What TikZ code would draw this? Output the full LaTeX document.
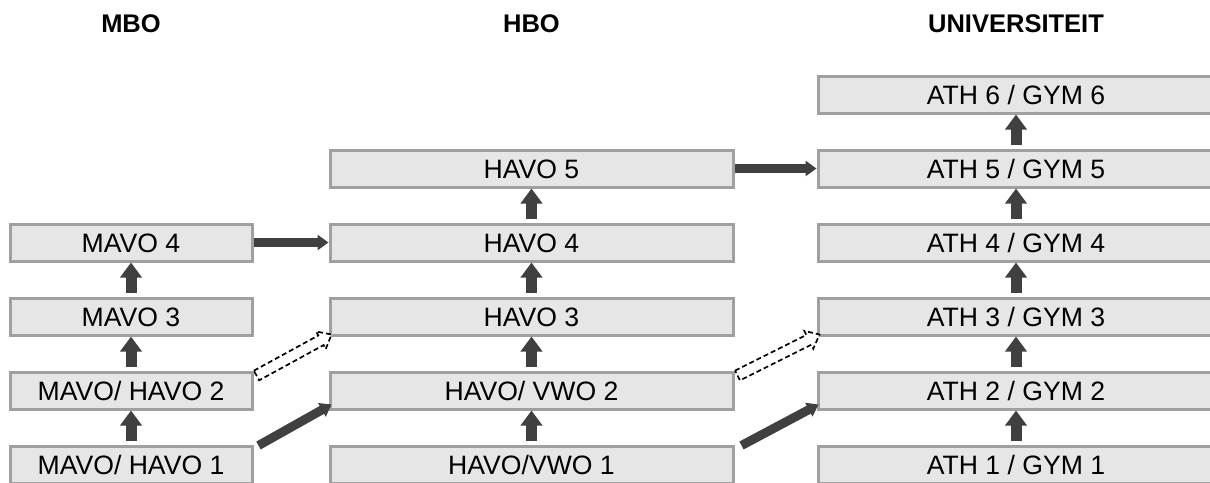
\documentclass[tikz,border=0pt]{standalone}
\usepackage{fontspec}
\setmainfont{Liberation Sans}
\usetikzlibrary{arrows.meta,positioning,calc}
\definecolor{boxgray}{RGB}{160,160,160}
\definecolor{boxfill}{RGB}{230,230,230}
\definecolor{arrowgray}{RGB}{64,64,64}

\begin{document}
\begin{tikzpicture}[x=1pt,y=-1pt,node distance=34pt,
  level/.style={draw=boxgray,fill=boxfill,line width=3pt,minimum height=37pt,inner sep=0pt,text height=19pt,text depth=0pt,font=\fontsize{26.6}{30}\selectfont},
  mbo/.style={level,minimum width=242pt},
  hbo/.style={level,minimum width=403pt},
  uni/.style={level,minimum width=396pt},
  head/.style={inner sep=0pt,text height=18.3pt,text depth=0pt,font=\fontsize{25.5}{30}\selectfont\bfseries},
  stepup/.style={arrowgray,line width=11pt,shorten <=4pt,-{Triangle[length=15pt,width=21pt]}},
  jump/.style={arrowgray,line width=9pt,-{Triangle[length=11pt,width=15pt]}},
  hollow/.style={draw=black,fill=white,line width=1.7pt,dash pattern=on 5pt off 3pt,line join=miter}]
\useasboundingbox (0,0) rectangle (1210,482);

% column headers
\node[head] (mbohead) at (131,23.5) {MBO};
\node[head] (hbohead) at (531.5,23.5) {HBO};
\node[head] (unihead) at (1016,23.5) {UNIVERSITEIT};

% MBO
\node[mbo] (mh1) at (131,464.5) {MAVO/ HAVO 1};
\node[mbo,above=of mh1] (mh2) {MAVO/ HAVO 2};
\node[mbo,above=of mh2] (m3) {MAVO 3};
\node[mbo,above=of m3] (m4) {MAVO 4};

% HBO
\node[hbo] (hv1) at (531.5,464.5) {HAVO/VWO 1};
\node[hbo,above=of hv1] (hv2) {HAVO/ VWO 2};
\node[hbo,above=of hv2] (h3) {HAVO 3};
\node[hbo,above=of h3] (h4) {HAVO 4};
\node[hbo,above=of h4] (h5) {HAVO 5};

% universiteit
\foreach \i in {1,...,6}
  \node[uni] (a\i) at (1016,538.5-74*\i) {ATH \i\ / GYM \i};

% year to year
\draw[stepup] (mh1) -- (mh2);
\draw[stepup] (mh2) -- (m3);
\draw[stepup] (m3) -- (m4);
\draw[stepup] (hv1) -- (hv2);
\draw[stepup] (hv2) -- (h3);
\draw[stepup] (h3) -- (h4);
\draw[stepup] (h4) -- (h5);
\foreach \i [count=\j from 2] in {1,...,5}
  \draw[stepup] (a\i) -- (a\j);

% doorstroom
\draw[jump] (m4) -- (h4);
\draw[jump] (h5) -- (a5);
\draw[jump] ($(mh1.north east)+(5,1)$) -- ($(hv2.south west)+(3,-6)$);
\draw[jump] ($(hv1.north east)+(7,1)$) -- ($(a2.south west)+(2,-6)$);
\foreach \from/\to in {mh2/h3,hv2/a3}{
  \coordinate (s) at ($(\from.north east)+(3,5)$);
  \coordinate (t) at ($(\to.south west)+(3,-2)$);
  \coordinate (b) at ($(t)!12pt!(s)$);
  \draw[hollow] ($(s)!5.5pt!90:(t)$) -- ($(b)!5.5pt!90:(t)$) -- ($(b)!10pt!90:(t)$) -- (t)
    -- ($(b)!10pt!-90:(t)$) -- ($(b)!5.5pt!-90:(t)$) -- ($(s)!5.5pt!-90:(t)$) -- cycle;
}
\end{tikzpicture}
\end{document}
